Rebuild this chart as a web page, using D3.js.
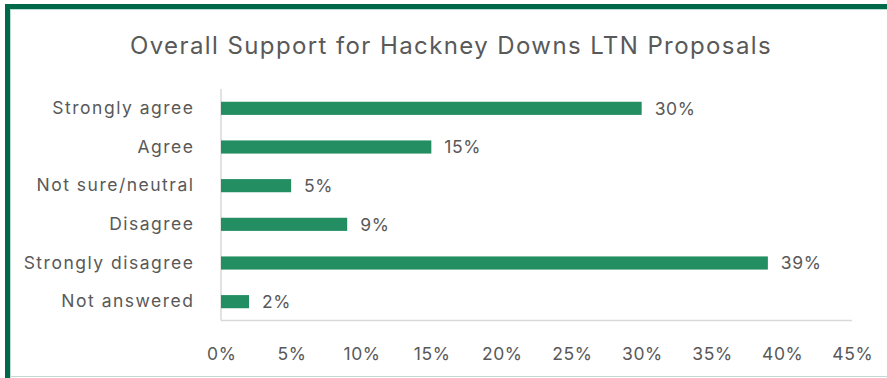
<!DOCTYPE html>
<html>
<head>
<meta charset="utf-8">
<script src="https://cdn.jsdelivr.net/npm/d3@7"></script>
<style>
  html, body { margin: 0; padding: 0; background: #ffffff; }
  svg { display: block; }
  text { font-family: "Inter", "Open Sans", sans-serif; fill: #595959; }
</style>
</head>
<body>
<svg id="chart" width="887" height="378"></svg>
<script>
// Survey responses to the Hackney Downs LTN proposals
const categories = ["Strongly agree", "Agree", "Not sure/neutral", "Disagree", "Strongly disagree", "Not answered"];
const shares = [30, 15, 5, 9, 39, 2];
const tickValues = [0, 5, 10, 15, 20, 25, 30, 35, 40, 45];
const title = "Overall Support for Hackney Downs LTN Proposals";

const width = 887, height = 378;
const fontStack = "Inter, 'Open Sans', sans-serif";
const svg = d3.select("#chart");

// Frame: dark green band on top and left, thin pale rule inside it
svg.append("rect").attr("x", 5).attr("y", 4).attr("width", width - 5).attr("height", 5).attr("fill", "#00694a");
svg.append("rect").attr("x", 5).attr("y", 4).attr("width", 5).attr("height", height - 4).attr("fill", "#00694a");
svg.append("line").attr("x1", 10).attr("x2", width).attr("y1", 9.5).attr("y2", 9.5).attr("stroke", "#b9ddd3").attr("stroke-width", 1);
svg.append("line").attr("x1", 10.5).attr("x2", 10.5).attr("y1", 9).attr("y2", height).attr("stroke", "#b9ddd3").attr("stroke-width", 1);
svg.append("line").attr("x1", 10).attr("x2", width).attr("y1", 376.5).attr("y2", 376.5).attr("stroke", "#c6d8d2").attr("stroke-width", 1);

const margin = { left: 221, right: 852, top: 89, bottom: 321 };

const x = d3.scaleLinear().domain([0, 45]).range([margin.left, margin.right]);
const y = d3.scaleBand().domain(categories).range([margin.top, margin.bottom]).paddingInner(0.66).paddingOuter(0.33);

// Title
svg.append("text")
  .attr("x", 451).attr("y", 54)
  .attr("text-anchor", "middle")
  .attr("font-size", 24)
  .attr("letter-spacing", 1.4)
  .text(title);

// Axis lines (left and bottom)
svg.append("line").attr("x1", margin.left).attr("x2", margin.left).attr("y1", margin.top).attr("y2", 320.5)
  .attr("stroke", "#d9d9d9").attr("stroke-width", 1.5);
svg.append("line").attr("x1", margin.left).attr("x2", margin.right).attr("y1", 320.5).attr("y2", 320.5)
  .attr("stroke", "#d9d9d9").attr("stroke-width", 1.5);

// Category axis labels
const yAxis = d3.axisLeft(y).tickSize(0).tickPadding(26.5);
const gy = svg.append("g").attr("transform", `translate(${margin.left},0)`).call(yAxis);
gy.select(".domain").remove();
gy.selectAll("text").attr("font-size", 17.5).attr("fill", "#595959").attr("letter-spacing", 1.5)
  .style("font-family", fontStack);

// Percentage axis labels
const xAxis = d3.axisBottom(x).tickValues(tickValues).tickFormat(d => d + "%").tickSize(0).tickPadding(0);
const gx = svg.append("g").attr("transform", `translate(0,347.5)`).call(xAxis);
gx.select(".domain").remove();
gx.selectAll("text").attr("font-size", 17.5).attr("fill", "#595959").attr("dy", "0.71em")
  .attr("letter-spacing", 0.6).attr("dx", 0.3)
  .style("font-family", fontStack);

// Bars
const rows = categories.map((c, i) => ({ category: c, value: shares[i] }));
svg.append("g").selectAll("rect").data(rows).join("rect")
  .attr("x", x(0))
  .attr("y", d => y(d.category))
  .attr("width", d => x(d.value) - x(0))
  .attr("height", y.bandwidth())
  .attr("fill", "#238e62");

// Value labels
svg.append("g").selectAll("text").data(rows).join("text")
  .attr("x", d => x(d.value) + 13)
  .attr("y", d => y(d.category) + y.bandwidth() / 2)
  .attr("dy", "0.36em")
  .attr("font-size", 17.5)
  .attr("letter-spacing", 0.6)
  .text(d => d.value + "%");
</script>
</body>
</html>
